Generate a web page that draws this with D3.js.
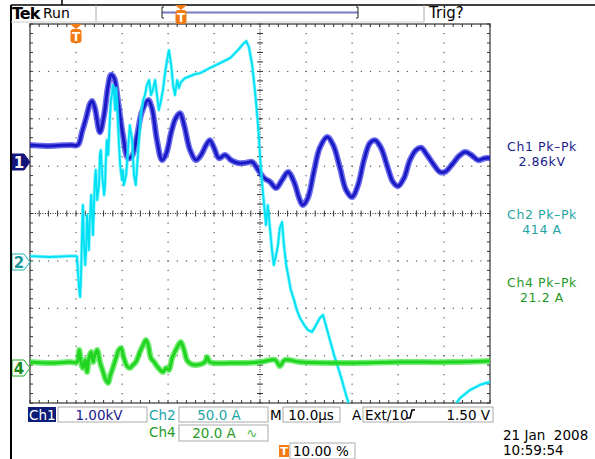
<!DOCTYPE html>
<html>
<head>
<meta charset="utf-8">
<script src="https://cdn.jsdelivr.net/npm/d3@7"></script>
<style>
  body { margin: 0; background: #fff; }
  svg { display: block; font-family: "DejaVu Sans", Verdana, sans-serif; }
</style>
</head>
<body>
<svg width="595" height="459"></svg>
<script>
// time in µs relative to trigger
const ch1Time = [-10,-5.7,-1.3,0.4,1.3,2.2,3.0,3.5,4.1,5.2,6.1,7.0,7.6,8.3,9.1,10.2,11.3,12.2,13.3,14.3,15.7,16.5,17.6,18.7,19.6,20.7,21.7,22.6,23.5,24.8,26.1,27.2,28.3,29.1,30.0,31.1,32.4,33.7,35.2,36.7,38.3,39.6,40.9,42.2,43.5,44.8,46.1,47.4,48.5,49.3,50.4,51.7,53.0,54.6,55.9,57.4,58.7,60.0,61.3,62.6,63.9,65.0,66.3,67.8,68.9,70.0,71.3,72.6,73.9,75.0,76.3,77.8,79.1,80.2,81.7,83.3,84.6,85.9,87.4,88.9,90];
const ch1Kv = [0.36,0.34,0.36,0.36,0.63,0.93,1.22,1.29,1.14,0.63,0.99,1.62,1.84,1.77,1.31,0.57,0.08,0.13,0.57,1.05,1.31,1.14,0.46,0.04,0.17,0.63,0.93,1.03,0.78,0.25,0.04,0.15,0.36,0.46,0.30,0.08,0.15,0.04,-0.02,-0.02,0,-0.17,-0.34,-0.42,-0.55,-0.38,-0.21,-0.42,-0.76,-0.91,-0.76,-0.21,0.30,0.53,0.36,-0.13,-0.59,-0.74,-0.49,0.04,0.40,0.46,0.30,-0.13,-0.42,-0.51,-0.34,0.04,0.25,0.30,0.15,-0.06,-0.21,-0.21,-0.06,0.13,0.21,0.15,0.04,0.08,0.08];

const ch2Time = [-10,-5.7,-1.3,0.2,0.4,0.7,0.9,1.1,1.3,1.5,1.7,2.0,2.2,2.4,2.6,2.8,3.0,3.3,3.5,3.7,3.9,4.1,4.3,4.6,5.0,5.2,5.4,5.7,6.1,6.3,6.5,6.7,7.0,7.4,7.6,7.8,8.0,8.3,8.5,8.7,8.9,9.3,9.6,10.0,10.2,10.4,10.9,11.3,11.7,12.2,12.6,13.0,13.3,13.7,14.1,14.6,15.0,15.4,15.9,16.3,16.7,17.2,17.6,18.0,18.5,18.9,19.3,19.8,20.2,20.7,21.1,21.5,22.0,22.4,22.8,23.7,24.8,25.9,27.0,29.1,31.3,33.5,35.2,36.3,37.0,37.6,38.3,38.7,39.1,39.6,40.0,40.4,40.9,41.3,41.7,42.2,42.6,43.0,43.5,43.9,44.3,44.8,45.2,45.7,46.1,46.7,47.4,48.0,48.7,49.6,50.4,51.3,52.2,53.0,53.7,54.3,55.2,56.1,57.0,57.8,58.7,59.6,60.4,61.7,66.1,72.6,79.1,81.3,82.4,83.5,85.7,87.8,90];
const ch2Amps = [6.3,5.3,6.3,6.3,-8.4,-29.5,-36.9,-13.7,28.5,60.1,23.2,-3.2,12.7,49.6,33.8,12.7,44.3,70.7,49.6,28.5,60.1,86.5,97.1,65.4,81.2,112.9,118.1,91.8,70.7,81.2,107.6,128.7,112.9,155.1,170.9,176.2,186.7,176.2,160.3,183.6,170.9,128.7,102.3,86.5,97.1,81.2,91.8,118.1,144.5,128.7,91.8,81.2,102.3,128.7,155.1,170.9,176.2,186.7,192.0,176.2,181.4,192.0,176.2,160.3,170.9,181.4,197.3,213.1,223.6,207.8,186.7,176.2,192.0,183.6,189.9,194.1,196.2,198.3,199.4,204.7,209.9,215.2,223.6,230.0,233.1,226.8,207.8,189.9,170.9,142.4,112.9,86.5,60.1,39.0,60.1,33.8,12.7,-3.2,7.4,17.9,35.9,42.2,17.9,-3.2,-13.7,-29.5,-40.1,-50.6,-59.1,-66.5,-71.7,-73.8,-66.5,-59.1,-55.9,-66.5,-82.3,-98.1,-111.8,-124.5,-140.3,-154.0,-166.7,-175.0,-181.4,-180.0,-175.1,-164.6,-150.9,-143.5,-135.0,-129.8,-126.6];

const ch4Time = [-10,-5.7,-1.3,0.2,0.7,1.1,1.5,2.0,2.4,2.8,3.3,3.7,4.1,4.6,5.2,5.9,6.5,7.0,7.4,8.0,8.7,9.3,9.8,10.4,11.1,11.7,12.4,13.0,13.9,14.6,15.2,15.7,16.3,17.0,17.6,18.3,18.9,19.6,20.2,20.9,21.7,22.4,22.8,23.5,24.1,25.0,26.1,28.0,28.5,29.1,33.5,40.0,43.3,44.3,45.4,48.7,59.6,70.4,81.3,90];
const ch4Amps = [2.5,2.1,2.5,2.5,7.6,2.5,0,3.4,-1.7,4.2,6.8,2.5,5.5,7.6,2.5,-1.7,-5.1,-6.3,-3.4,0,4.2,7.6,8.4,4.2,0.8,0,1.3,2.5,6.8,9.7,11.8,9.7,4.2,2.5,0.8,-0.8,-1.7,0,-0.8,4.2,7.6,10.1,11.0,7.6,3.4,1.7,1.3,2.5,4.6,2.5,2.1,2.5,3.4,0.8,3.4,2.5,2.1,2.5,2.5,3.0];

// readouts
const pkLabels = ['Ch1 Pk\u2013Pk', 'Ch2 Pk\u2013Pk', 'Ch4 Pk\u2013Pk'];
const pkValues = ['2.86kV', '414 A', '21.2 A'];

const svg = d3.select('svg');

const plotL = 30, plotR = 490, plotT = 24, plotB = 403;

const xScale = d3.scaleLinear().domain([-10, 90]).range([plotL, plotR]);
const yDiv = d3.scaleLinear().domain([-4, 4]).range([plotB, plotT]);

const gridColor = '#555';

// graticule
const grid = svg.append('g');
const minorT = d3.range(-10, 90.01, 2);
const minorV = d3.range(-4, 4.001, 0.2);

[0, 10, 20, 30, 50, 60, 70, 80].forEach(t => {
  grid.selectAll(null).data(minorV).enter().append('rect')
    .attr('x', xScale(t) - 0.5).attr('y', d => yDiv(d) - 0.5)
    .attr('width', 1.2).attr('height', 1.2).attr('fill', gridColor);
});
[-3, -2, -1, 1, 2, 3].forEach(v => {
  grid.selectAll(null).data(minorT).enter().append('rect')
    .attr('x', d => xScale(d) - 0.5).attr('y', yDiv(v) - 0.5)
    .attr('width', 1.2).attr('height', 1.2).attr('fill', gridColor);
});

// centre cross
grid.append('line')
  .attr('x1', xScale(40)).attr('x2', xScale(40)).attr('y1', plotT).attr('y2', plotB)
  .attr('stroke', '#333').attr('stroke-dasharray', '1,1.5');
grid.append('line')
  .attr('x1', plotL).attr('x2', plotR).attr('y1', yDiv(0)).attr('y2', yDiv(0))
  .attr('stroke', '#333').attr('stroke-dasharray', '1,1.5');
grid.selectAll(null).data(minorV).enter().append('line')
  .attr('x1', xScale(40) - 3).attr('x2', xScale(40) + 3)
  .attr('y1', d => yDiv(d)).attr('y2', d => yDiv(d))
  .attr('stroke', '#333');
grid.selectAll(null).data(minorT).enter().append('line')
  .attr('y1', yDiv(0) - 3).attr('y2', yDiv(0) + 3)
  .attr('x1', d => xScale(d)).attr('x2', d => xScale(d))
  .attr('stroke', '#333');

// border with ticks
grid.append('rect')
  .attr('x', plotL).attr('y', plotT).attr('width', plotR - plotL).attr('height', plotB - plotT)
  .attr('fill', 'none').attr('stroke', '#666').attr('stroke-width', 1.6);
grid.selectAll(null).data(minorT).enter().append('line')
  .attr('x1', d => xScale(d)).attr('x2', d => xScale(d))
  .attr('y1', plotT).attr('y2', plotT + 3).attr('stroke', '#333');
grid.selectAll(null).data(minorT).enter().append('line')
  .attr('x1', d => xScale(d)).attr('x2', d => xScale(d))
  .attr('y1', plotB).attr('y2', plotB - 3).attr('stroke', '#333');
grid.selectAll(null).data(minorV).enter().append('line')
  .attr('y1', d => yDiv(d)).attr('y2', d => yDiv(d))
  .attr('x1', plotL).attr('x2', plotL + 3).attr('stroke', '#333');
grid.selectAll(null).data(minorV).enter().append('line')
  .attr('y1', d => yDiv(d)).attr('y2', d => yDiv(d))
  .attr('x1', plotR).attr('x2', plotR - 3).attr('stroke', '#333');

// traces
svg.append('clipPath').attr('id', 'screen')
  .append('rect').attr('x', plotL).attr('y', plotT)
  .attr('width', plotR - plotL).attr('height', plotB - plotT);

const traces = svg.append('g').attr('clip-path', 'url(#screen)');

const channels = [
  {time: ch1Time, vals: ch1Kv, perDiv: 1.0, offset: (213.5 - 162) / 47.375,
   outer: '#2e2ee6', inner: '#1a1ac4', wOut: 6, wIn: 3, op: 0.7, curve: d3.curveCatmullRom},
  {time: ch2Time, vals: ch2Amps, perDiv: 50, offset: (213.5 - 262) / 47.375,
   outer: '#3eeeff', inner: '#00e0f4', wOut: 3.4, wIn: 1.8, op: 0.6, curve: d3.curveLinear},
  {time: ch4Time, vals: ch4Amps, perDiv: 20, offset: (213.5 - 368) / 47.375,
   outer: '#3ae63a', inner: '#22d422', wOut: 6, wIn: 3, op: 0.7, curve: d3.curveCatmullRom}
];

channels.forEach(ch => {
  const pts = ch.time.map((t, i) => [t, ch.vals[i]]);
  const line = d3.line()
    .x(d => xScale(d[0]))
    .y(d => yDiv(ch.offset + d[1] / ch.perDiv))
    .curve(ch.curve);
  traces.append('path').attr('d', line(pts))
    .attr('fill', 'none').attr('stroke', ch.outer)
    .attr('stroke-width', ch.wOut).attr('stroke-opacity', ch.op)
    .attr('stroke-linejoin', 'round');
  traces.append('path').attr('d', line(pts))
    .attr('fill', 'none').attr('stroke', ch.inner)
    .attr('stroke-width', ch.wIn).attr('stroke-linejoin', 'round');
});

// channel ground markers
const markers = [
  {label: '1', y: yDiv(channels[0].offset), fill: '#14147a', stroke: '#14147a', text: '#fff'},
  {label: '2', y: yDiv(channels[1].offset), fill: '#fff', stroke: '#1fb0b0', text: '#1a9a9a'},
  {label: '4', y: yDiv(channels[2].offset), fill: '#fff', stroke: '#22aa22', text: '#1a8a1a'}
];
markers.forEach(m => {
  svg.append('path')
    .attr('d', `M12,${m.y - 8} L24,${m.y - 8} L30,${m.y} L24,${m.y + 8} L12,${m.y + 8} Z`)
    .attr('fill', m.fill).attr('stroke', m.stroke).attr('stroke-width', 1);
  svg.append('text').attr('x', 19).attr('y', m.y + 5.5)
    .attr('text-anchor', 'middle').attr('font-size', 15).attr('font-weight', 'bold')
    .attr('fill', m.text).text(m.label);
});

// trigger marker on screen and in header
const orange = '#f27a12';
function tMarker(x, y0) {
  svg.append('path')
    .attr('d', `M${x - 6},${y0} L${x + 6},${y0} L${x},${y0 + 5} Z`)
    .attr('fill', orange);
  svg.append('rect').attr('x', x - 5.5).attr('y', y0 + 5).attr('width', 11).attr('height', 14)
    .attr('rx', 3).attr('fill', orange);
  svg.append('text').attr('x', x).attr('y', y0 + 17).attr('text-anchor', 'middle')
    .attr('font-size', 12).attr('font-weight', 'bold').attr('fill', '#fff').text('T');
}
tMarker(xScale(0), plotT);

// header
svg.append('line').attr('x1', 11).attr('x2', 595).attr('y1', 5).attr('y2', 5)
  .attr('stroke', '#000').attr('stroke-width', 1.5);
svg.append('line').attr('x1', 11).attr('x2', 11).attr('y1', 5).attr('y2', 459)
  .attr('stroke', '#000').attr('stroke-width', 2);
svg.append('line').attr('x1', 62).attr('x2', 62).attr('y1', 0).attr('y2', 5)
  .attr('stroke', '#000').attr('stroke-width', 1.5);
[96, 424].forEach(x => svg.append('line').attr('x1', x).attr('x2', x).attr('y1', 5).attr('y2', 22)
  .attr('stroke', '#aaa'));
svg.append('line').attr('x1', 11).attr('x2', 424).attr('y1', 22).attr('y2', 22)
  .attr('stroke', '#ccc');

svg.append('text').attr('x', 12).attr('y', 19).attr('font-size', 16).attr('font-weight', 'bold')
  .attr('letter-spacing', -1).text('Tek');
svg.append('text').attr('x', 43).attr('y', 18).attr('font-size', 14).text('Run');
svg.append('text').attr('x', 429).attr('y', 18).attr('font-size', 15).text('Trig?');

// record bracket
svg.append('line').attr('x1', 162).attr('x2', 358).attr('y1', 12.5).attr('y2', 12.5)
  .attr('stroke', '#7878c4').attr('stroke-width', 2);
svg.append('path').attr('d', 'M164,7 L162,7 L162,18 L164,18').attr('fill', 'none').attr('stroke', '#222');
svg.append('path').attr('d', 'M356,7 L358,7 L358,18 L356,18').attr('fill', 'none').attr('stroke', '#222');
tMarker(181, 5);

// right readouts
const pkColors = ['#1a1a8c', '#22a4a4', '#1f9a1f'];
const pkY = [151, 219, 287];
pkLabels.forEach((s, i) => {
  svg.append('text').attr('x', 542).attr('y', pkY[i]).attr('text-anchor', 'middle')
    .attr('font-size', 12.5).attr('letter-spacing', 0.6).attr('fill', pkColors[i]).text(s);
  svg.append('text').attr('x', 542).attr('y', pkY[i] + 15).attr('text-anchor', 'middle')
    .attr('font-size', 12.5).attr('letter-spacing', 0.6).attr('fill', pkColors[i]).text(pkValues[i]);
});

// bottom readouts
function box(x, y, w, h) {
  svg.append('rect').attr('x', x).attr('y', y).attr('width', w).attr('height', h)
    .attr('fill', '#fff').attr('stroke', '#aaa');
}
function txt(x, y, s, color, anchor) {
  return svg.append('text').attr('x', x).attr('y', y).attr('font-size', 13.5)
    .attr('fill', color).attr('text-anchor', anchor || 'start').text(s);
}

svg.append('rect').attr('x', 28).attr('y', 407).attr('width', 28).attr('height', 15).attr('fill', '#0c1a78');
txt(29, 420, 'Ch1', '#fff');
box(58, 407, 89, 15);
txt(99, 420, '1.00kV', '#1a1a8c', 'middle');

txt(149, 420, 'Ch2', '#22a4a4');
box(179, 407, 89, 15);
txt(219, 420, '50.0 A', '#22a4a4', 'middle');

txt(270, 420, 'M', '#000');
box(283, 407, 57, 15);
txt(311, 420, '10.0\u00b5s', '#000', 'middle');

txt(352, 420, 'A', '#000');
box(363, 407, 130, 15);
txt(365, 420, 'Ext/10', '#000');
svg.append('path').attr('d', 'M407,418 L410,418 L412,410 L415,410')
  .attr('fill', 'none').attr('stroke', '#000').attr('stroke-width', 1.6);
txt(490, 420, '1.50 V', '#000', 'end');

txt(149, 437, 'Ch4', '#1f9a1f');
box(179, 425, 89, 16);
txt(214, 438, '20.0 A', '#1f9a1f', 'middle');
txt(252, 438, '\u223f', '#5cc05c', 'middle');

svg.append('rect').attr('x', 279).attr('y', 445).attr('width', 10).attr('height', 12).attr('fill', orange);
svg.append('text').attr('x', 284).attr('y', 455).attr('text-anchor', 'middle')
  .attr('font-size', 11).attr('font-weight', 'bold').attr('fill', '#fff').text('T');
box(290, 443, 65, 16);
txt(293, 456, '10.00 %', '#000');

txt(503, 440, '21 Jan  2008', '#000').style('white-space', 'pre');
txt(503, 455, '10:59:54', '#000');
</script>
</body>
</html>
